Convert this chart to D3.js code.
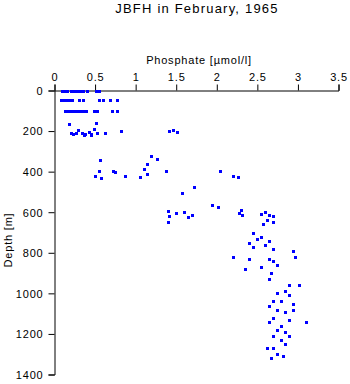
<!DOCTYPE html>
<html><head><meta charset="utf-8">
<script src="https://cdn.jsdelivr.net/npm/d3@7"></script>
<style>body{margin:0;background:#fff}svg{display:block}text{font-family:"Liberation Sans",Arial,sans-serif;fill:#000}</style>
</head><body><svg id="c" width="350" height="384"></svg>
<script>
const title = "JBFH in February, 1965";
const xLabel = "Phosphate [\u00b5mol/l]";
const yLabel = "Depth [m]";
const xTicks = [0, 0.5, 1, 1.5, 2, 2.5, 3, 3.5];
const yTicks = [0, 200, 400, 600, 800, 1000, 1200, 1400];
const phosphate = [
 0.10,0.13,0.16,0.21,0.24,0.27,0.30,0.33,0.36,0.41,0.52,0.55,
 0.09,0.12,0.15,0.19,0.22,0.31,0.36,0.55,0.61,0.69,0.78,
 0.14,0.17,0.20,0.24,0.27,0.30,0.33,0.37,0.40,0.49,0.53,0.72,0.78,
 0.19,0.52,0.49,0.30,0.83,0.21,0.24,0.27,0.35,0.38,0.43,0.46,0.53,0.63,0.37,0.46,
 0.57,0.56,0.73,0.75,0.51,0.58,0.87,1.11,1.06,
 1.42,1.47,1.52,
 1.20,1.27,1.15,1.38,1.15,
 2.05,2.20,2.27,
 1.72,1.58,1.95,2.02,
 1.40,1.42,1.50,1.60,1.70,1.40,1.65,
 2.30,2.28,2.32,
 2.55,2.60,2.65,2.70,2.62,2.70,2.58,
 2.45,2.50,2.55,2.65,2.40,2.45,2.60,2.70,2.95,2.97,2.20,2.40,2.65,2.70,2.75,2.35,2.55,2.68,2.65,
 2.90,3.02,2.85,2.75,2.90,2.70,2.80,2.95,2.65,2.75,2.85,2.95,2.70,2.90,2.65,3.10,2.80,2.75,2.85,2.70,2.90,2.80,2.85,2.70,2.62,2.75,2.82,2.68
];
const depth = [
 0,0,0,0,0,0,0,0,0,0,0,0,
 48,48,48,48,48,48,48,48,48,48,48,
 100,100,100,100,100,100,100,100,100,100,100,100,100,
 167,162,188,195,200,210,212,210,208,214,205,212,210,208,219,219,
 343,397,397,402,423,431,420,387,428,
 200,195,205,
 325,340,360,395,410,
 395,420,425,
 477,505,565,575,
 595,620,605,600,615,650,625,
 590,605,615,
 610,600,615,620,640,650,660,
 700,730,720,740,750,770,760,780,790,820,820,830,830,840,860,880,870,900,930,
 960,960,990,1000,1010,1040,1040,1050,1060,1080,1090,1080,1120,1130,1140,1140,1160,1180,1190,1210,1210,1230,1250,1270,1270,1300,1310,1320
];

const svg = d3.select("#c");
const x = d3.scaleLinear().domain([0, 3.5]).range([54.5, 338.5]);
const y = d3.scaleLinear().domain([0, 1400]).range([90.5, 374.5]);

svg.append("text").attr("x", 197).attr("y", 13).attr("text-anchor", "middle")
  .style("font-size", "13px").style("letter-spacing", "1.2px").text(title);

const xa = svg.append("g").attr("transform", "translate(0,90.5)")
  .call(d3.axisTop(x).tickValues(xTicks).tickSize(6).tickPadding(4).tickFormat(d3.format("")));
const ya = svg.append("g").attr("transform", "translate(54.5,0)")
  .call(d3.axisLeft(y).tickValues(yTicks).tickSize(6).tickPadding(5).tickFormat(d3.format("")));
[xa, ya].forEach(a => {
  a.select(".domain").attr("stroke", "#000");
  a.selectAll(".tick line").attr("stroke", "#000");
  a.selectAll(".tick text").style("font-size", "11px").style("letter-spacing", "0.8px")
    .style("font-family", '"Liberation Sans",Arial,sans-serif');
});
ya.selectAll(".tick text").attr("dy", "0.35em");

svg.append("text").attr("x", 199).attr("y", 64).attr("text-anchor", "middle")
  .style("font-size", "11px").style("letter-spacing", "0.8px").text(xLabel);
svg.append("text").attr("transform", "translate(12,240) rotate(-90)").attr("text-anchor", "middle")
  .style("font-size", "11px").style("letter-spacing", "0.8px").text(yLabel);

const pts = phosphate.map((p, i) => ({p, d: depth[i]}));
svg.append("g").selectAll("rect").data(pts).join("rect")
  .attr("x", d => Math.round(x(d.p) - 1.5)).attr("y", d => Math.round(y(d.d) - 1))
  .attr("width", 3).attr("height", 3).attr("fill", "#0000ff");
</script></body></html>
